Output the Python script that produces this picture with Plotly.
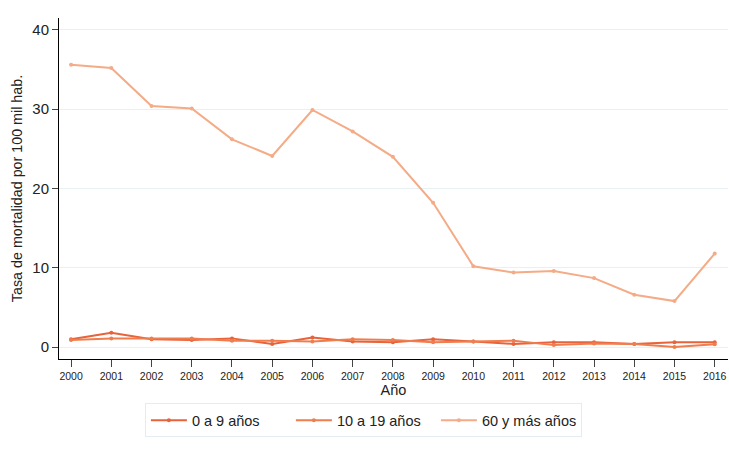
import plotly.graph_objects as go

years = list(range(2000, 2017))
g0_9 = [1.0, 1.8, 1.0, 0.9, 1.1, 0.4, 1.2, 0.7, 0.6, 1.0, 0.7, 0.4, 0.6, 0.6, 0.4, 0.6, 0.6]
g10_19 = [0.9, 1.1, 1.1, 1.1, 0.8, 0.8, 0.7, 1.0, 0.9, 0.6, 0.7, 0.8, 0.25, 0.45, 0.4, 0.0, 0.35]
g60 = [35.6, 35.2, 30.4, 30.1, 26.2, 24.1, 29.9, 27.2, 24.0, 18.2, 10.2, 9.4, 9.6, 8.7, 6.6, 5.8, 11.8]

series = [
    ("0 a 9 años", g0_9, "#E8623A"),
    ("10 a 19 años", g10_19, "#EF7D4E"),
    ("60 y más años", g60, "#F4AB86"),
]

fig = go.Figure()
for name, vals, col in series:
    fig.add_trace(go.Scatter(x=years, y=vals, name=name, mode="lines+markers",
                             line=dict(color=col, width=2),
                             marker=dict(color=col, size=4)))

fig.update_layout(
    width=729, height=451,
    margin=dict(l=59, r=1, t=18, b=92, autoexpand=False),
    paper_bgcolor="white", plot_bgcolor="white",
    font=dict(family="Liberation Sans, Arial, sans-serif", color="#222"),
    legend=dict(orientation="h", x=0.455, xanchor="center", y=-0.13, yanchor="top",
                bordercolor="#e3ecf0", borderwidth=1, font=dict(size=14.5),
                itemwidth=36, entrywidth=94),
    showlegend=True,
)
fig.update_xaxes(range=[1999.7, 2016.33], tickvals=years, ticktext=[str(y) for y in years],
                 showgrid=False, showline=True, linecolor="black", linewidth=1,
                 ticks="outside", ticklen=7, tickcolor="#444", tickfont=dict(size=10.5),
                 title=dict(text="Año", font=dict(size=14.5), standoff=0), zeroline=False,
                 automargin=False)
fig.update_yaxes(range=[-1.5, 41.5], tickvals=[0, 10, 20, 30, 40],
                 showgrid=True, gridcolor="#e8f0f3", gridwidth=1,
                 showline=True, linecolor="black", linewidth=1,
                 ticks="outside", ticklen=6, tickcolor="#444", tickfont=dict(size=15),
                 title=dict(text="Tasa de mortalidad por 100 mil hab.", font=dict(size=14.3), standoff=6),
                 zeroline=False, automargin=False)

fig.write_html("out.html", config={"displayModeBar": False},
               post_script="document.body.style.margin='0';document.body.style.overflow='hidden';")
